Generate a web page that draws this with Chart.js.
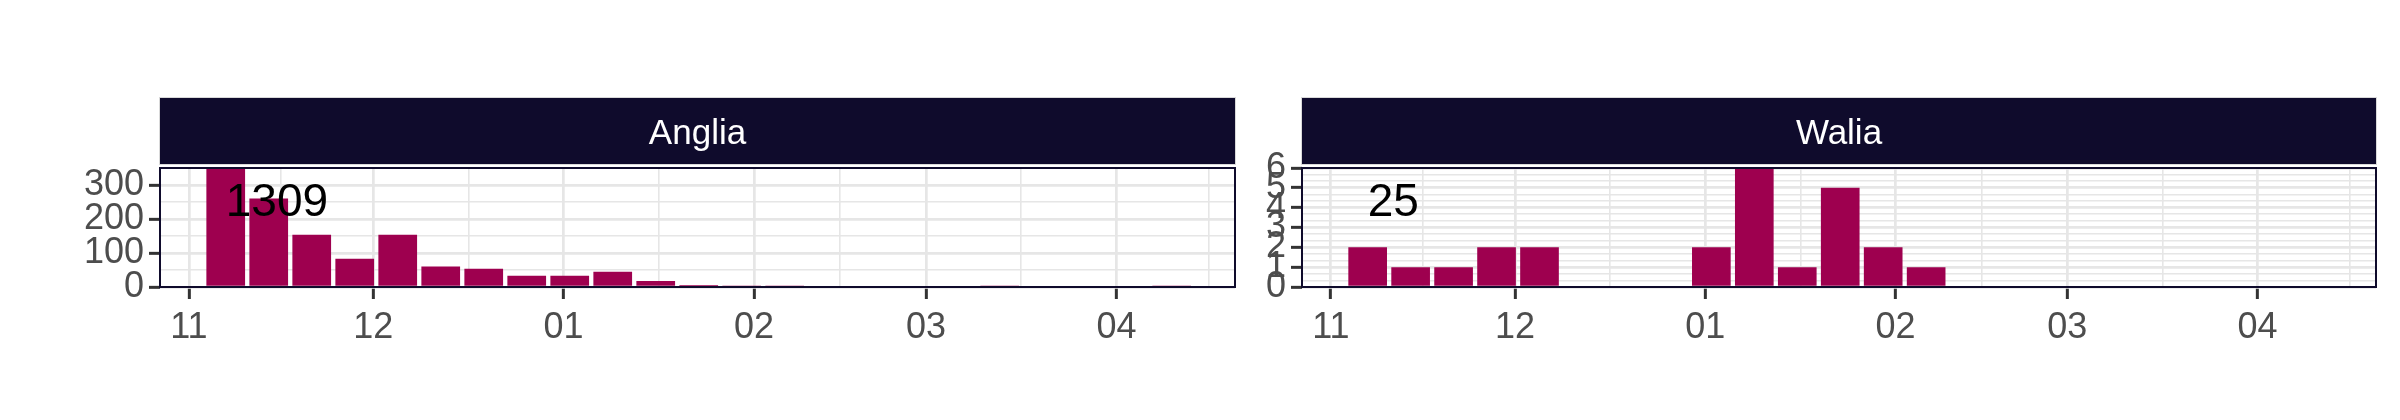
<!DOCTYPE html>
<html>
<head>
<meta charset="utf-8">
<script src="https://cdn.jsdelivr.net/npm/chart.js@4.4.1/dist/chart.umd.min.js"></script>
<style>
    body { margin: 0; background: #ffffff; }
    #wrap { position: relative; width: 2400px; height: 420px; }
    canvas { position: absolute; top: 0; }
</style>
</head>
<body>
<div id="wrap">
    <canvas id="angliaChart" width="1240" height="420" style="left:0px"></canvas>
    <canvas id="waliaChart" width="1160" height="420" style="left:1240px"></canvas>
</div>
<script>
// Weekly counts (week centre dates)
const weekCenters = [
    "2020-11-07", "2020-11-14", "2020-11-21", "2020-11-28", "2020-12-05", "2020-12-12",
    "2020-12-19", "2020-12-26", "2021-01-02", "2021-01-09", "2021-01-16", "2021-01-23",
    "2021-01-30", "2021-02-06", "2021-02-13", "2021-02-20", "2021-02-27", "2021-03-06",
    "2021-03-13", "2021-03-20", "2021-03-27", "2021-04-03", "2021-04-10"
];
const angliaCounts = [405, 260, 154, 83, 154, 60, 54, 33, 33, 45, 18, 6, 1, 1, 0, 0, 0, 0, 1, 0, 0, 0, 1];
const waliaCounts = [2, 1, 1, 2, 2, 0, 0, 0, 2, 6, 1, 5, 2, 1, 0, 0, 0, 0, 0, 0, 0, 0, 0];

// x axis breaks (month starts) and their labels
const monthBreaks = ["2020-11-01", "2020-12-01", "2021-01-01", "2021-02-01", "2021-03-01", "2021-04-01", "2021-05-01"];
const monthLabels = ["11", "12", "01", "02", "03", "04", "05"];

// y axis breaks
const angliaBreaks = [0, 100, 200, 300];
const waliaBreaks = [0, 1, 2, 3, 4, 5, 6];

const BAR = "#9E004F";
const NAVY = "#0F0B2C";
const GRID = "#E6E6E6";
const LABEL = "#4D4D4D";
const FONT = "'Liberation Sans', Arial, sans-serif";

const origin = Date.parse("2020-11-01");
const dayOf = (s) => (Date.parse(s) - origin) / 86400000;

const X_MIN = -4.7;
const X_MAX = 170.3;

const monthDays = monthBreaks.map(dayOf);
const monthMinor = monthDays.slice(1).map((d, i) => (d + monthDays[i]) / 2);

const isIn = (arr, v) => arr.some(a => Math.abs(a - v) < 1e-6);

// strip, panel border and total label
const panelDecor = {
    id: "panel",
    afterDatasetsDraw(chart, args, opts) {
        const { ctx, chartArea } = chart;
        const w = chartArea.right - chartArea.left;
        ctx.save();

        ctx.strokeStyle = NAVY;
        ctx.lineWidth = 2;
        ctx.strokeRect(chartArea.left, chartArea.top, w, chartArea.bottom - chartArea.top);

        ctx.fillStyle = NAVY;
        ctx.fillRect(chartArea.left, chartArea.top - 70, w, 66);
        ctx.strokeStyle = "#D9D9D9";
        ctx.lineWidth = 1;
        ctx.strokeRect(chartArea.left - 0.5, chartArea.top - 70.5, w + 1, 67);

        ctx.fillStyle = "#FFFFFF";
        ctx.font = "35px " + FONT;
        ctx.textAlign = "center";
        ctx.textBaseline = "middle";
        ctx.fillText(opts.name, chartArea.left + w / 2, chartArea.top - 34);

        const xs = chart.scales.x;
        const ys = chart.scales.y;
        ctx.fillStyle = "#000000";
        ctx.font = "46px " + FONT;
        ctx.textAlign = "left";
        ctx.fillText(opts.total, xs.getPixelForValue(dayOf(weekCenters[0])), ys.getPixelForValue(ys.max * 0.70));
        ctx.restore();
    }
};

function makePanel(id, name, counts, yMax, yBreaks, yMinor, yWidth, padRight) {
    const total = counts.reduce((a, b) => a + b, 0);
    const xTicks = monthDays.concat(monthMinor).filter(v => v >= X_MIN && v <= X_MAX);
    const yTicks = yBreaks.concat(yMinor).filter(v => v >= 0 && v <= yMax);

    return new Chart(document.getElementById(id).getContext("2d"), {
        type: "bar",
        data: {
            datasets: [{
                data: weekCenters.map((d, i) => ({ x: dayOf(d), y: counts[i] })),
                backgroundColor: BAR,
                borderWidth: 0,
                barPercentage: 0.9,
                categoryPercentage: 1,
                clip: 0
            }]
        },
        options: {
            responsive: false,
            animation: false,
            layout: { padding: { top: 168, right: padRight, left: 0, bottom: 0 } },
            plugins: {
                legend: { display: false },
                tooltip: { enabled: false },
                panel: { name: name, total: String(total) }
            },
            scales: {
                x: {
                    type: "linear",
                    min: X_MIN,
                    max: X_MAX,
                    offset: false,
                    afterBuildTicks: (s) => { s.ticks = xTicks.map(v => ({ value: v })); },
                    afterFit: (s) => { s.height = 133; },
                    ticks: {
                        autoSkip: false,
                        maxRotation: 0,
                        padding: 7,
                        color: LABEL,
                        font: { family: FONT, size: 36 },
                        callback: (v) => {
                            const i = monthDays.findIndex(d => Math.abs(d - v) < 1e-6);
                            return i >= 0 ? monthLabels[i] : "";
                        }
                    },
                    grid: {
                        offset: false,
                        color: GRID,
                        lineWidth: (c) => isIn(monthDays, c.tick.value) ? 2.7 : 1.6,
                        tickLength: 12,
                        tickWidth: 3,
                        tickColor: (c) => isIn(monthDays, c.tick.value) ? "#333333" : "rgba(0,0,0,0)"
                    },
                    border: { display: false }
                },
                y: {
                    min: 0,
                    max: yMax,
                    afterBuildTicks: (s) => { s.ticks = yTicks.map(v => ({ value: v })); },
                    afterFit: (s) => { s.width = yWidth; },
                    ticks: {
                        autoSkip: false,
                        padding: 5,
                        color: LABEL,
                        font: { family: FONT, size: 36 },
                        callback: (v) => isIn(yBreaks, v) ? String(Math.round(v)) : ""
                    },
                    grid: {
                        color: GRID,
                        lineWidth: (c) => isIn(yBreaks, c.tick.value) ? 2.7 : 1.6,
                        tickLength: 11,
                        tickWidth: 3,
                        tickColor: (c) => isIn(yBreaks, c.tick.value) ? "#333333" : "rgba(0,0,0,0)"
                    },
                    border: { display: false }
                }
            }
        },
        plugins: [panelDecor]
    });
}

makePanel("angliaChart", "Anglia", angliaCounts, 350, angliaBreaks, [50, 150, 250], 160, 5);
makePanel("waliaChart", "Walia", waliaCounts, 6, waliaBreaks,
    [1, 2, 4, 5, 7, 8, 10, 11, 13, 14, 16, 17].map(v => v / 3), 62, 24);
</script>
</body>
</html>
